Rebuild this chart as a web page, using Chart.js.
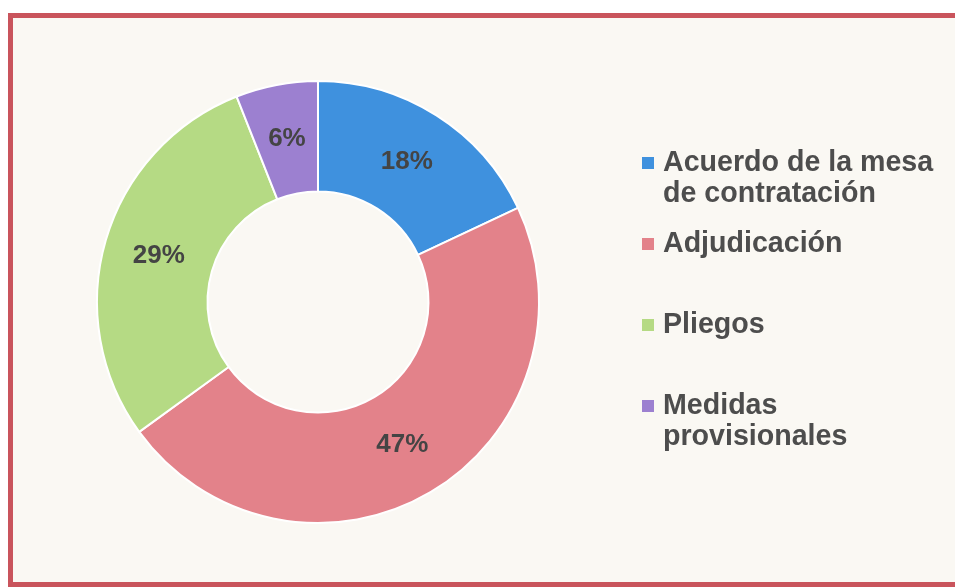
<!DOCTYPE html>
<html lang="es">
<head>
<meta charset="utf-8">
<title>Distribución</title>
<script src="https://cdn.jsdelivr.net/npm/chart.js@4.4.1/dist/chart.umd.min.js"></script>
<style>
  html, body { margin: 0; padding: 0; background: #ffffff; overflow: hidden; }
  #marco {
    position: absolute; left: 8px; top: 13px;
    width: 970px; height: 564px;
    border: 5px solid #c9545c;
    background: #faf8f3;
  }
  #wrap { position: absolute; left: 0; top: 0; width: 955px; height: 587px; }
</style>
</head>
<body>
<div id="marco"></div>
<div id="wrap"><canvas id="grafico"></canvas></div>
<script>
// Datos del gráfico
const categorias = [
    ['Acuerdo de la mesa', 'de contratación'],
    ['Adjudicación'],
    ['Pliegos'],
    ['Medidas', 'provisionales']
];
const porcentajes = [18, 47, 29, 6];
const colores = ['#3f91de', '#e3828a', '#b5da84', '#9c80d0'];

const fuente = "'Liberation Sans', Arial, sans-serif";

// Etiquetas de porcentaje en el centro de cada sector
const etiquetasPlugin = {
    id: 'etiquetas',
    afterDatasetsDraw(chart) {
        const ctx = chart.ctx;
        const meta = chart.getDatasetMeta(0);
        ctx.save();
        ctx.font = 'bold 26px ' + fuente;
        ctx.fillStyle = '#444444';
        ctx.textAlign = 'center';
        ctx.textBaseline = 'middle';
        meta.data.forEach(function(arc, i) {
            const p = arc.tooltipPosition();
            ctx.fillText(chart.data.datasets[0].data[i] + '%', p.x, p.y);
        });
        ctx.restore();
    }
};

// Leyenda a la derecha
const leyendaPlugin = {
    id: 'leyenda',
    afterDraw(chart) {
        const ctx = chart.ctx;
        ctx.save();
        ctx.font = 'bold 28.6px ' + fuente;
        ctx.textBaseline = 'alphabetic';
        ctx.textAlign = 'left';
        chart.data.labels.forEach(function(lineas, i) {
            const y0 = 171 + i * 81;
            ctx.fillStyle = colores[i];
            ctx.fillRect(642, y0 - 14, 12, 12);
            ctx.fillStyle = '#4d4d4d';
            lineas.forEach(function(linea, j) {
                ctx.fillText(linea, 663, y0 + j * 31);
            });
        });
        ctx.restore();
    }
};

document.addEventListener('DOMContentLoaded', function() {
    const ctx = document.getElementById('grafico').getContext('2d');

    new Chart(ctx, {
        type: 'doughnut',
        data: {
            labels: categorias,
            datasets: [{
                data: porcentajes,
                backgroundColor: colores,
                borderColor: '#ffffff',
                borderWidth: 2
            }]
        },
        options: {
            responsive: true,
            maintainAspectRatio: false,
            animation: false,
            cutout: '50%',
            layout: {
                padding: { left: 96, top: 80, right: 415, bottom: 63 }
            },
            plugins: {
                legend: { display: false },
                tooltip: { enabled: false }
            }
        },
        plugins: [etiquetasPlugin, leyendaPlugin]
    });
});
</script>
</body>
</html>
